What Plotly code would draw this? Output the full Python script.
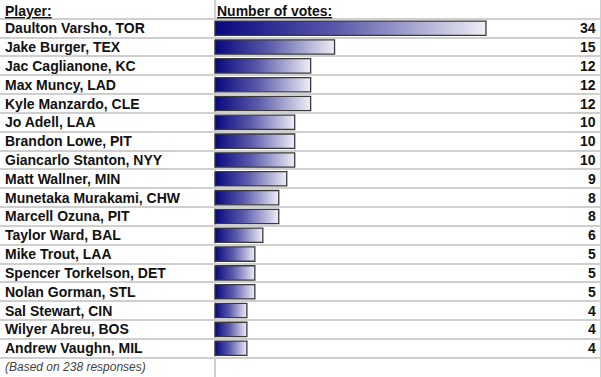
import plotly.graph_objects as go

players = [
    "Daulton Varsho, TOR", "Jake Burger, TEX", "Jac Caglianone, KC", "Max Muncy, LAD",
    "Kyle Manzardo, CLE", "Jo Adell, LAA", "Brandon Lowe, PIT", "Giancarlo Stanton, NYY",
    "Matt Wallner, MIN", "Munetaka Murakami, CHW", "Marcell Ozuna, PIT", "Taylor Ward, BAL",
    "Mike Trout, LAA", "Spencer Torkelson, DET", "Nolan Gorman, STL", "Sal Stewart, CIN",
    "Wilyer Abreu, BOS", "Andrew Vaughn, MIL",
]
votes = [34, 15, 12, 12, 12, 10, 10, 10, 9, 8, 8, 6, 5, 5, 5, 4, 4, 4]
header_player = "Player:"
header_votes = "Number of votes:"
footnote = "(Based on 238 responses)"

W, H = 601, 377
zero_px = 215.0
px_per_vote = 7.97
n_rows = len(players) + 2  # header + players + footnote

FONT = "Liberation Sans, Arial, sans-serif"
GRID = "#cfcfcf"

fig = go.Figure()

half = 0.38
for i, (p, v) in enumerate(zip(players, votes)):
    r = i + 1
    fig.add_trace(go.Scatter(
        x=[0, v, v, 0, 0],
        y=[r - half, r - half, r + half, r + half, r - half],
        mode="lines",
        fill="toself",
        fillgradient=dict(type="horizontal",
                          colorscale=[[0, "#07077f"], [0.45, "#5a5aaa"], [1, "#eeeef6"]]),
        line=dict(color="#3a3a3a", width=1.3),
        hoverinfo="skip",
        showlegend=False,
    ))
    fig.add_annotation(x=3 / W, xref="paper", y=r, yref="y", text=f"<b>{p}</b>",
                       showarrow=False, xanchor="left", yanchor="middle",
                       font=dict(family=FONT, size=14, color="#111"))
    fig.add_annotation(x=598 / W, xref="paper", y=r, yref="y", text=f"<b>{v}</b>",
                       showarrow=False, xanchor="right", yanchor="middle",
                       font=dict(family=FONT, size=14, color="#111"))

fig.add_annotation(x=3 / W, xref="paper", y=0.08, yref="y", text=f"<b><u>{header_player}</u></b>",
                   showarrow=False, xanchor="left", yanchor="middle",
                   font=dict(family=FONT, size=14, color="#111"))
fig.add_annotation(x=215 / W, xref="paper", y=0.08, yref="y", text=f"<b><u>{header_votes}</u></b>",
                   showarrow=False, xanchor="left", yanchor="middle",
                   font=dict(family=FONT, size=14, color="#111"))
fig.add_annotation(x=3 / W, xref="paper", y=n_rows - 1, yref="y", text=f"<i>{footnote}</i>",
                   showarrow=False, xanchor="left", yanchor="middle",
                   font=dict(family=FONT, size=12, color="#444"))

# right border
fig.add_shape(type="line", xref="paper", yref="paper", x0=1, x1=1, y0=0, y1=1,
              line=dict(color=GRID, width=2))

boundaries = [k - 0.5 for k in range(n_rows + 1)]
fig.update_layout(
    width=W, height=H,
    margin=dict(l=0, r=0, t=0, b=0),
    paper_bgcolor="white", plot_bgcolor="white",
    hovermode=False,
    xaxis=dict(range=[-zero_px / px_per_vote, (W - zero_px) / px_per_vote],
               showgrid=False, showticklabels=False, ticks="",
               zeroline=True, zerolinecolor=GRID, zerolinewidth=2, fixedrange=True),
    yaxis=dict(range=[n_rows - 0.5 + 0.03, -0.5], tickvals=boundaries,
               showgrid=True, gridcolor=GRID, gridwidth=2,
               showticklabels=False, ticks="", zeroline=False, fixedrange=True),
)

fig.write_html("out.html", config={"displayModeBar": False},
               post_script="document.body.style.margin='0';document.body.style.overflow='hidden';")
